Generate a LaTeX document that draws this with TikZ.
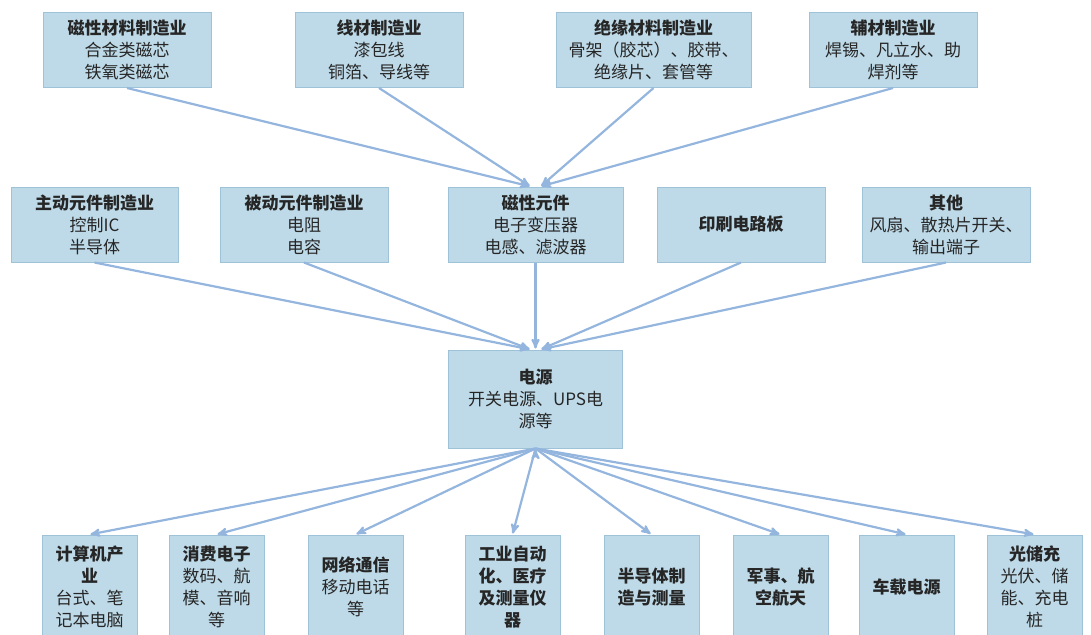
\documentclass[tikz,border=0pt]{standalone}
\usepackage{fontspec}
\setmainfont{Noto Sans CJK SC}
\usepackage{tikz}
\usetikzlibrary{arrows,positioning}
\definecolor{boxfill}{RGB}{190,218,232}
\definecolor{boxline}{RGB}{158,194,216}
\definecolor{arrowblue}{RGB}{148,182,222}

\begin{document}
\begin{tikzpicture}[->,>=stealth',shorten >=1pt,x=1pt,y=1pt,
                    conn/.style={draw=arrowblue,line width=2.2pt}]
  \tikzstyle{box}=[rectangle,fill=boxfill,draw=boxline,line width=1pt,
                   align=center,inner sep=2pt,text=black!85,
                   font=\fontsize{17}{22}\selectfont]
  \tikzstyle{upbox}=[box,minimum width=168pt,minimum height=75pt]
  \tikzstyle{appbox}=[box,minimum width=95pt,minimum height=104pt]

  \useasboundingbox (0,0) rectangle (1091,-634);
  \clip (0,0) rectangle (1091,-634);

  % materials
  \node[upbox] (m1) at (127,-50) {\textbf{磁性材料制造业}\\合金类磁芯\\铁氧类磁芯};
  \node[upbox] (m2) [right=83pt of m1] {\textbf{线材制造业}\\漆包线\\铜箔、导线等};
  \node[upbox,minimum width=195pt] (m3) [right=92pt of m2] {\textbf{绝缘材料制造业}\\骨架（胶芯）、胶带、\\绝缘片、套管等};
  \node[upbox] (m4) [right=57pt of m3] {\textbf{辅材制造业}\\焊锡、凡立水、助\\焊剂等};

  % components
  \node[upbox,minimum width=167pt] (c1) at (94.5,-224.5) {\textbf{主动元件制造业}\\控制IC\\半导体};
  \node[upbox] (c2) [right=41pt of c1] {\textbf{被动元件制造业}\\电阻\\电容};
  \node[upbox,minimum width=175pt] (c3) [right=59pt of c2] {\textbf{磁性元件}\\电子变压器\\电感、滤波器};
  \node[upbox] (c4) [right=33pt of c3] {\textbf{印刷电路板}};
  \node[upbox] (c5) [right=36pt of c4] {\textbf{其他}\\风扇、散热片开关、\\输出端子};

  % power supply
  \node[box,minimum width=174pt,minimum height=98pt] (psu) [below=87pt of c3] {\textbf{电源}\\开关电源、UPS电\\源等};

  % applications
  \node[appbox] (a1) at (89.5,-587) {\textbf{计算机产}\\\textbf{业}\\台式、笔\\记本电脑};
  \node[appbox] (a2) [right=31pt of a1] {\textbf{消费电子}\\数码、航\\模、音响\\等};
  \node[appbox] (a3) [right=43pt of a2] {\textbf{网络通信}\\移动电话\\等};
  \node[appbox] (a4) [right=61pt of a3] {\textbf{工业自动}\\\textbf{化、医疗}\\\textbf{及测量仪}\\\textbf{器}};
  \node[appbox] (a5) [right=43pt of a4] {\textbf{半导体制}\\\textbf{造与测量}};
  \node[appbox] (a6) [right=33pt of a5] {\textbf{军事、航}\\\textbf{空航天}};
  \node[appbox] (a7) [right=30pt of a6] {\textbf{车载电源}};
  \node[appbox] (a8) [right=32pt of a7] {\textbf{光储充}\\光伏、储\\能、充电\\桩};

  \path[conn] (m1.south) edge ([xshift=-5pt]c3.north)
              (m2.south) edge ([xshift=-5pt]c3.north)
              (m3.south) edge ([xshift=5pt]c3.north)
              (m4.south) edge ([xshift=5pt]c3.north)
              (c1.south) edge ([xshift=-5pt]psu.north)
              (c2.south) edge ([xshift=-5pt]psu.north)
              (c3.south) edge (psu.north)
              (c4.south) edge ([xshift=5pt]psu.north)
              (c5.south) edge ([xshift=5pt]psu.north)
              (psu.south) edge (a1.north)
                          edge (a2.north)
                          edge (a3.north)
                          edge (a4.north)
                          edge (a5.north)
                          edge (a6.north)
                          edge (a7.north)
                          edge (a8.north);
\end{tikzpicture}
\end{document}
